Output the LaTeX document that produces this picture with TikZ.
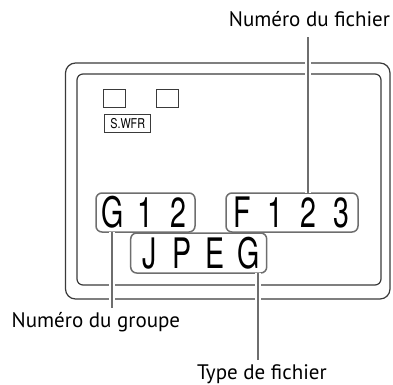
\documentclass[tikz,border=0pt]{standalone}
\usepackage{fontspec}
\setmainfont{PT Sans}
\newfontfamily\lcdfont[FakeStretch=0.68]{TeX Gyre Heros}
\newfontfamily\tagfont[FakeStretch=0.8]{TeX Gyre Heros}
\usetikzlibrary{positioning,calc}
\definecolor{framegray}{HTML}{3A3A3A}
\definecolor{leadgray}{HTML}{6E6E6E}
\newcommand{\lcdch}[1]{\makebox[33pt]{#1}}

\begin{document}
\begin{tikzpicture}[x=1pt, y=-1pt,
  every node/.style={inner sep=0pt, outer sep=0pt},
  frm/.style={draw=framegray, line width=1.2pt},
  lcdbox/.style={draw=leadgray, line width=1.5pt, rounded corners=6pt, minimum height=39pt,
    font=\lcdfont\fontsize{42}{42}\selectfont},
  sq/.style={draw=framegray, line width=1pt, minimum width=22pt, minimum height=18pt},
  tagbox/.style={draw=framegray, line width=1pt, minimum width=46pt, minimum height=18.5pt,
    font=\tagfont\fontsize{13.5}{13.5}\selectfont},
  lbl/.style={font=\fontsize{21}{23}\selectfont},
  lead/.style={draw=leadgray, line width=2pt, preaction={draw=white, line width=6pt}}
]
\useasboundingbox (0,0) rectangle (393,384);
% Frame of the display
\draw[frm, rounded corners=10pt] (65.5,63) rectangle (390,299);
\draw[frm, rounded corners=6pt] (77,74) rectangle (381,285);
% Indicators
\node[sq] (sqa) at (114,98) {};
\node[sq] (sqb) at (167,98) {};
\node[tagbox] (swfr) at (127.7,123.3) {S.WFR};
% Readout
\node[lcdbox, minimum width=99pt] (g12) at (145.5,212.5) {\lcdch{G}\lcdch{1}\lcdch{2}};
\node[lcdbox, minimum width=132pt] (f123) at (292,212.5) {\lcdch{F}\lcdch{1}\lcdch{2}\lcdch{3}};
\node[lcdbox, minimum width=136pt, minimum height=40pt] (jpeg) at (198.7,253) {\lcdch{J}\lcdch{P}\lcdch{E}\lcdch{G}};
% Labels
\node[lbl, anchor=base east] (fich) at (390,26.7) {Numéro du fichier};
\node[lbl, anchor=base west] (grp) at (11.7,327.3) {Numéro du groupe};
\node[lbl, anchor=base west] (typ) at (197,379) {Type de fichier};
% Leaders
\coordinate (fpin) at (308.3,37);
\coordinate (gpin) at (112,308);
\coordinate (tpin) at (258.3,360);
\draw[lead] (fpin) -- (fpin |- f123.north);
\draw[lead] (gpin |- g12.south) -- (gpin);
\draw[lead] (tpin |- jpeg.south) -- (tpin);
\end{tikzpicture}
\end{document}
